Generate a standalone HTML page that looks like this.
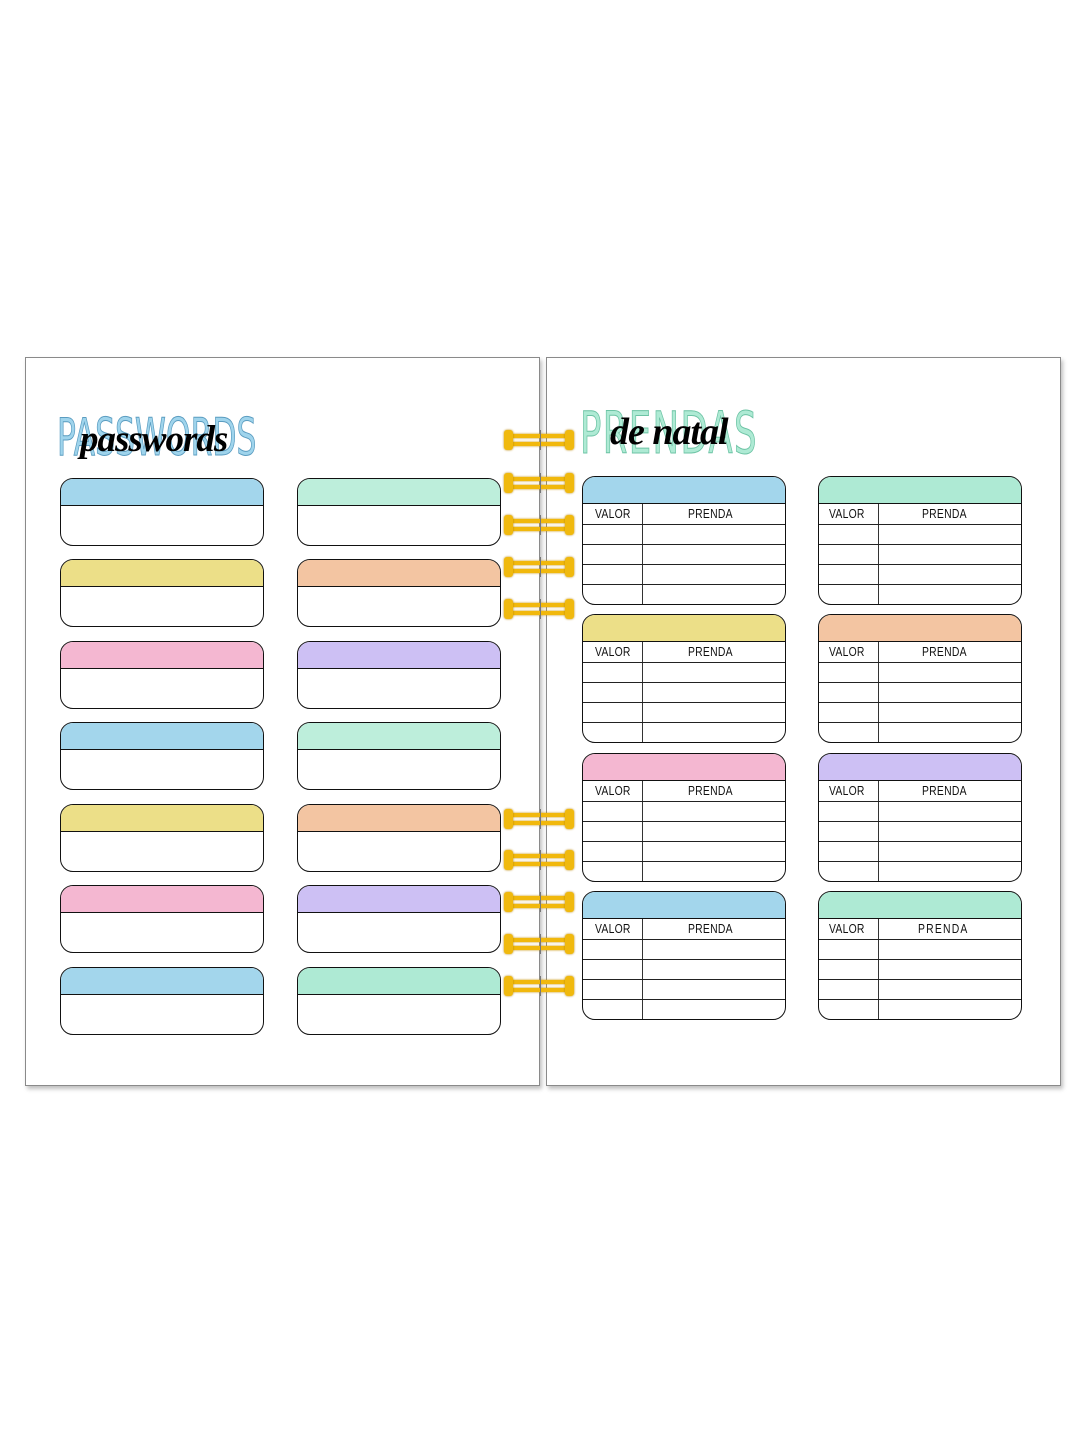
<!DOCTYPE html>
<html><head><meta charset="utf-8"><style>
body{margin:0;width:1079px;height:1439px;background:#fff;position:relative;overflow:hidden;font-family:"Liberation Sans",sans-serif}
.page{position:absolute;top:357px;width:513px;height:727px;border:1px solid #8a8a8a;background:#fff;box-shadow:2px 3px 4px rgba(0,0,0,.25)}
.c{position:absolute;width:202px;height:66px;border:1.6px solid #111;border-radius:13px;overflow:hidden;background:#fff}
.c .h{height:26px;border-bottom:1.6px solid #111}
.t{position:absolute;width:202px;height:127px;border:1.6px solid #111;border-radius:13px;overflow:hidden;background:#fff}
.t .h{height:26px;border-bottom:1.6px solid #111}
.t .r{height:19px;border-bottom:1.4px solid #222;position:relative;font-size:13px;color:#111}
.t .r:last-child{border-bottom:none}
.t .v{position:absolute;left:59px;top:27px;bottom:0;border-left:1.4px solid #333}
.t .r span{position:absolute;top:2px;letter-spacing:.3px;transform:scaleX(.8);transform-origin:left}
.ring{position:absolute;left:504px;width:70px;height:20px}
.ring i{position:absolute;left:2px;right:2px;height:4px;background:#f1b80c;border-radius:2px;box-shadow:0 0 2px #c79000}
.ring b{position:absolute;top:0;width:9px;height:20px;background:#f0b90e;border-radius:3px;box-shadow:0 0 2px #b98500}
.ring u{position:absolute;top:0;left:36px;width:1px;height:20px;background:#777}
.B{background:#a3d6ec}.G{background:#bdeedb}.Y{background:#ecdf88}.P{background:#f3c5a2}.K{background:#f4b7d1}.U{background:#cdc0f4}.G2{background:#aeead4}
</style></head><body>
<div class="page" style="left:25px"></div>
<div class="page" style="left:546px"></div>

<div style="position:absolute;left:57px;top:408px;font-size:52px;line-height:60px;color:#9fd4ec;-webkit-text-stroke:1px #5a9cc0;font-family:'DejaVu Sans Condensed',sans-serif;transform:scaleX(.67);transform-origin:left;white-space:nowrap">PASSWORDS</div>
<div style="position:absolute;left:80px;top:418px;font-size:37px;color:#000;font-family:'Liberation Serif',serif;font-style:italic;font-weight:bold;letter-spacing:-1px">passwords</div>

<div style="position:absolute;left:580px;top:400px;font-size:58px;line-height:66px;color:#aeead4;letter-spacing:2px;-webkit-text-stroke:1px #6cc3a4;font-family:'DejaVu Sans Condensed',sans-serif;transform:scaleX(.68);transform-origin:left;white-space:nowrap">PRENDAS</div>
<div style="position:absolute;left:610px;top:410px;font-size:38px;color:#000;font-family:'Liberation Serif',serif;font-style:italic;font-weight:bold;letter-spacing:-1px">de natal</div>

<div class="c" style="left:60px;top:478px"><div class="h B"></div></div>
<div class="c" style="left:60px;top:559px"><div class="h Y"></div></div>
<div class="c" style="left:60px;top:641px"><div class="h K"></div></div>
<div class="c" style="left:60px;top:722px"><div class="h B"></div></div>
<div class="c" style="left:60px;top:804px"><div class="h Y"></div></div>
<div class="c" style="left:60px;top:885px"><div class="h K"></div></div>
<div class="c" style="left:60px;top:967px"><div class="h B"></div></div>
<div class="c" style="left:297px;top:478px"><div class="h G"></div></div>
<div class="c" style="left:297px;top:559px"><div class="h P"></div></div>
<div class="c" style="left:297px;top:641px"><div class="h U"></div></div>
<div class="c" style="left:297px;top:722px"><div class="h G"></div></div>
<div class="c" style="left:297px;top:804px"><div class="h P"></div></div>
<div class="c" style="left:297px;top:885px"><div class="h U"></div></div>
<div class="c" style="left:297px;top:967px"><div class="h G2"></div></div>

<div class="t" style="left:582px;top:476px"><div class="h B"></div><div class="v"></div><div class="r" style="height:20px"><span style="left:12px">VALOR</span><span style="left:105px">PRENDA</span></div><div class="r"></div><div class="r"></div><div class="r"></div><div class="r"></div></div>
<div class="t" style="left:818px;top:476px"><div class="h G2"></div><div class="v"></div><div class="r" style="height:20px"><span style="left:10px">VALOR</span><span style="left:103px">PRENDA</span></div><div class="r"></div><div class="r"></div><div class="r"></div><div class="r"></div></div>
<div class="t" style="left:582px;top:614px"><div class="h Y"></div><div class="v"></div><div class="r" style="height:20px"><span style="left:12px">VALOR</span><span style="left:105px">PRENDA</span></div><div class="r"></div><div class="r"></div><div class="r"></div><div class="r"></div></div>
<div class="t" style="left:818px;top:614px"><div class="h P"></div><div class="v"></div><div class="r" style="height:20px"><span style="left:10px">VALOR</span><span style="left:103px">PRENDA</span></div><div class="r"></div><div class="r"></div><div class="r"></div><div class="r"></div></div>
<div class="t" style="left:582px;top:753px"><div class="h K"></div><div class="v"></div><div class="r" style="height:20px"><span style="left:12px">VALOR</span><span style="left:105px">PRENDA</span></div><div class="r"></div><div class="r"></div><div class="r"></div><div class="r"></div></div>
<div class="t" style="left:818px;top:753px"><div class="h U"></div><div class="v"></div><div class="r" style="height:20px"><span style="left:10px">VALOR</span><span style="left:103px">PRENDA</span></div><div class="r"></div><div class="r"></div><div class="r"></div><div class="r"></div></div>
<div class="t" style="left:582px;top:891px"><div class="h B"></div><div class="v"></div><div class="r" style="height:20px"><span style="left:12px">VALOR</span><span style="left:105px">PRENDA</span></div><div class="r"></div><div class="r"></div><div class="r"></div><div class="r"></div></div>
<div class="t" style="left:818px;top:891px"><div class="h G2"></div><div class="v"></div><div class="r" style="height:20px"><span style="left:10px">VALOR</span><span style="left:99px;letter-spacing:1.5px">PRENDA</span></div><div class="r"></div><div class="r"></div><div class="r"></div><div class="r"></div></div>

<div class="ring" style="top:430px"><i style="top:4px"></i><i style="top:12px"></i><b style="left:0"></b><b style="right:0"></b><u></u></div>
<div class="ring" style="top:473px"><i style="top:4px"></i><i style="top:12px"></i><b style="left:0"></b><b style="right:0"></b><u></u></div>
<div class="ring" style="top:515px"><i style="top:4px"></i><i style="top:12px"></i><b style="left:0"></b><b style="right:0"></b><u></u></div>
<div class="ring" style="top:557px"><i style="top:4px"></i><i style="top:12px"></i><b style="left:0"></b><b style="right:0"></b><u></u></div>
<div class="ring" style="top:599px"><i style="top:4px"></i><i style="top:12px"></i><b style="left:0"></b><b style="right:0"></b><u></u></div>
<div class="ring" style="top:809px"><i style="top:4px"></i><i style="top:12px"></i><b style="left:0"></b><b style="right:0"></b><u></u></div>
<div class="ring" style="top:850px"><i style="top:4px"></i><i style="top:12px"></i><b style="left:0"></b><b style="right:0"></b><u></u></div>
<div class="ring" style="top:892px"><i style="top:4px"></i><i style="top:12px"></i><b style="left:0"></b><b style="right:0"></b><u></u></div>
<div class="ring" style="top:934px"><i style="top:4px"></i><i style="top:12px"></i><b style="left:0"></b><b style="right:0"></b><u></u></div>
<div class="ring" style="top:976px"><i style="top:4px"></i><i style="top:12px"></i><b style="left:0"></b><b style="right:0"></b><u></u></div>
</body></html>
